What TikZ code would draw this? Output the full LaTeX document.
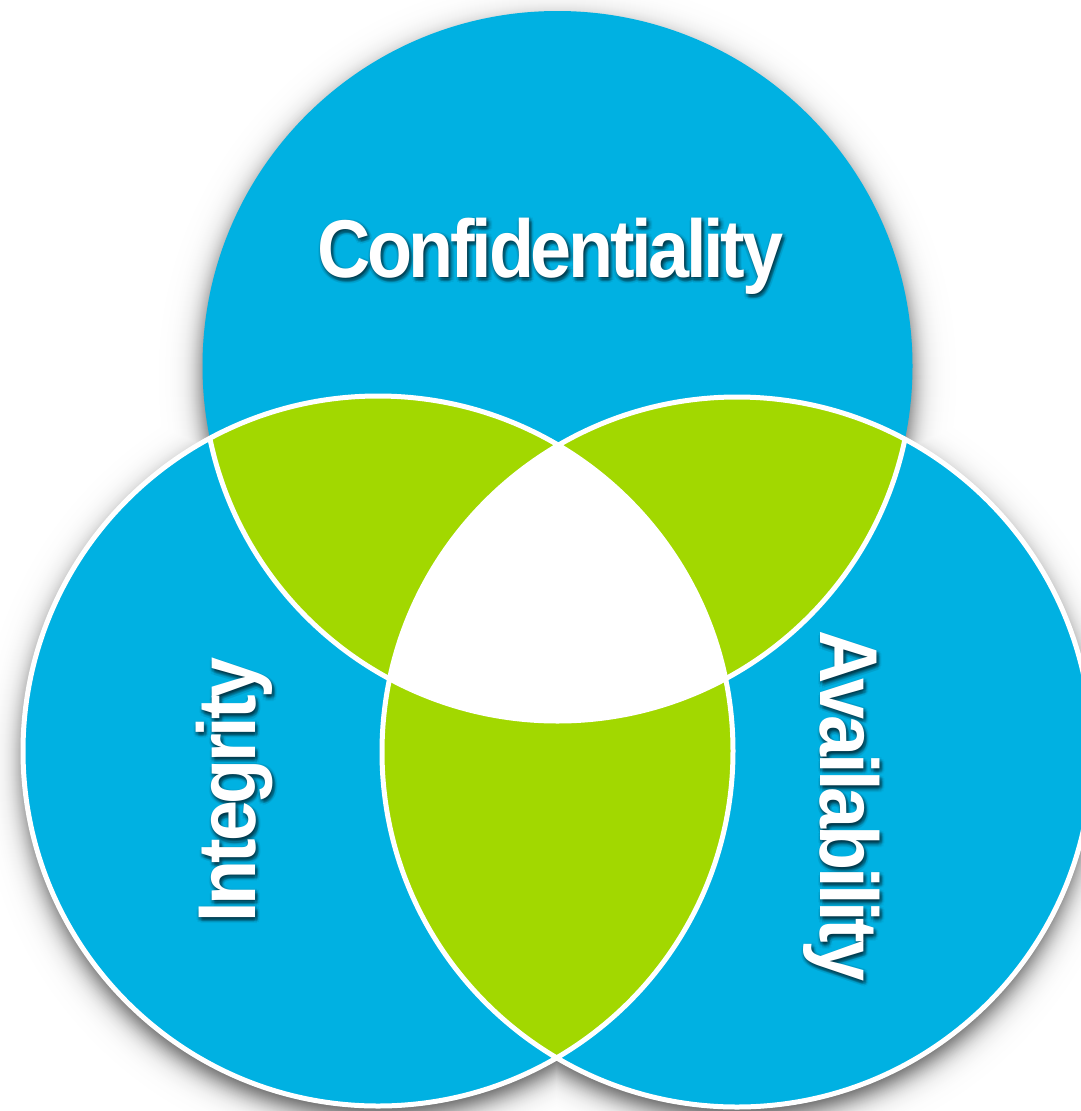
\documentclass[tikz,border=0pt]{standalone}
\usepackage{fontspec}
\usepackage{graphicx}
\setmainfont{Liberation Sans}
% tightly tracked bold face for the labels
\newfontfamily\ciafont{Liberation Sans}[LetterSpace=-4.5]
\definecolor{ciablue}{RGB}{0,177,226}
\definecolor{ciagreen}{RGB}{162,216,0}
\newcommand{\ciaword}[1]{\scalebox{0.9}[1]{#1}}

\begin{document}
\begin{tikzpicture}[x=1pt,y=-1pt,
    lbl/.style={text=white, font=\ciafont\fontsize{82}{90}\selectfont\bfseries,
                inner sep=0pt, anchor=base},
    lblshadow/.style={lbl, text=black, opacity=#1},
    rim/.style={draw=white, line width=5pt}]
\useasboundingbox (0,0) rectangle (1080,1111);

% circle centres
\coordinate (C) at (557.5,366);
\coordinate (I) at (378,751);
\coordinate (A) at (737,752);
\def\R{355}

% soft drop shadow under the union of the three circles
\foreach \s in {44,43,...,-26}{
  \pgfmathsetmacro\v{72/(1+exp(0.131*\s))}
  \pgfmathsetmacro\rr{\R+\s}
  \fill[black!\v]
    ([shift={(0,11)}]C) circle[radius=\rr pt]
    ([shift={(0,11)}]I) circle[radius=\rr pt]
    ([shift={(0,11)}]A) circle[radius=\rr pt];
}

% blue discs
\fill[ciablue] (C) circle[radius=\R pt] (I) circle[radius=\R pt] (A) circle[radius=\R pt];

% green pairwise overlaps
\begin{scope}
  \clip (C) circle[radius=\R pt];
  \fill[ciagreen] (I) circle[radius=\R pt] (A) circle[radius=\R pt];
\end{scope}
\begin{scope}
  \clip (I) circle[radius=\R pt];
  \fill[ciagreen] (A) circle[radius=\R pt];
\end{scope}

% white centre where all three meet
\begin{scope}
  \clip (C) circle[radius=\R pt];
  \clip (I) circle[radius=\R pt];
  \fill[white] (A) circle[radius=\R pt];
\end{scope}

% white outlines
\draw[rim] (I) circle[radius=\R pt] (A) circle[radius=\R pt];
\begin{scope}
  \clip (I) circle[radius=\R pt] (A) circle[radius=\R pt];
  \draw[rim] (C) circle[radius=\R pt];
\end{scope}

% label positions (baseline centres)
\coordinate (pc) at (550,277);
\coordinate (pi) at (255,790);
\coordinate (pa) at (820,806);

% blurred text shadows: an inner and an outer ring of faint copies
\foreach \r/\o [count=\j] in {1.5/0.08, 3.5/0.05}{
  \foreach \t [count=\k] in {0,45,...,315}{
    \node[lblshadow=\o] (cs\j-\k) at ([shift={({2+\r*cos(\t)},{3+\r*sin(\t)})}]pc) {\ciaword{Confidentiality}};
    \node[lblshadow=\o, rotate=90] (is\j-\k) at ([shift={({2+\r*cos(\t)},{3+\r*sin(\t)})}]pi) {\ciaword{Integrity}};
    \node[lblshadow=\o, rotate=-90] (as\j-\k) at ([shift={({2+\r*cos(\t)},{3+\r*sin(\t)})}]pa) {\ciaword{Availability}};
  }
}

% labels
\node[lbl] (conf) at (pc) {\ciaword{Confidentiality}};
\node[lbl, rotate=90] (integ) at (pi) {\ciaword{Integrity}};
\node[lbl, rotate=-90] (avail) at (pa) {\ciaword{Availability}};
\end{tikzpicture}
\end{document}
